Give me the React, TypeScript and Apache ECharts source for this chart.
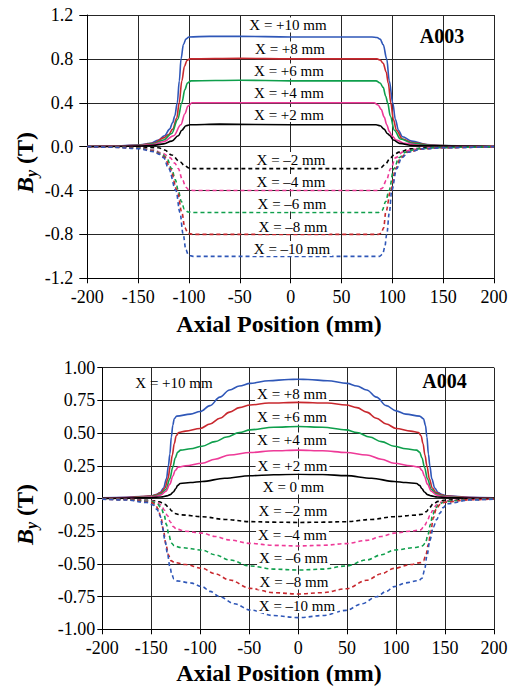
import React, { useEffect, useRef } from 'react';
import * as echarts from 'echarts';

const FONT = "'Liberation Serif', 'Times New Roman', serif";

const BLUE = '#2f57b8';
const RED = '#c8282e';
const GREEN = '#0f9f4c';
const PINK = '#ee3a98';
const BLACK = '#000000';

// ---------- A003 (top panel) ----------
const a003P10 = [[-200,0.002],[-175,0.006],[-150,0.015],[-138,0.03],[-130,0.06],[-124,0.1],[-119,0.16],[-116,0.22],[-114,0.28],[-111.5,0.4],[-109.5,0.6],[-107.8,0.8],[-105.5,0.93],[-103,0.98],[-100,1.0],[-80,1.005],[-50,1.005],[0,1.0],[50,1.0],[80,1.0],[85,0.995],[88,0.98],[91,0.93],[94.5,0.8],[97,0.6],[100.4,0.4],[103,0.25],[106,0.15],[110,0.09],[119,0.05],[134,0.02],[150,0.01],[175,0.004],[200,0.002]];
const a003P8 = [[-200,0.002],[-175,0.005],[-150,0.012],[-135,0.03],[-125,0.08],[-120,0.11],[-116,0.16],[-112,0.26],[-109.6,0.4],[-107,0.6],[-104.5,0.73],[-102,0.785],[-99,0.8],[-50,0.805],[0,0.8],[50,0.8],[85,0.8],[88,0.79],[91,0.76],[94,0.68],[96,0.58],[98.5,0.4],[101,0.25],[104,0.15],[110,0.07],[120,0.035],[140,0.012],[160,0.006],[200,0.002]];
const a003P6 = [[-200,0.002],[-175,0.004],[-150,0.01],[-135,0.025],[-125,0.06],[-117,0.12],[-111,0.25],[-107,0.4],[-104,0.52],[-101.5,0.58],[-98,0.6],[-50,0.605],[0,0.6],[50,0.6],[84,0.6],[88,0.58],[91,0.54],[93.5,0.46],[95.4,0.4],[98,0.28],[102,0.15],[108,0.07],[120,0.03],[140,0.01],[200,0.002]];
const a003P4 = [[-200,0.001],[-175,0.003],[-150,0.008],[-135,0.02],[-125,0.045],[-115,0.1],[-108,0.2],[-104,0.3],[-101,0.37],[-97,0.4],[0,0.4],[82,0.4],[86,0.38],[89,0.34],[92,0.27],[94.5,0.2],[97,0.14],[99.5,0.1],[104,0.06],[112,0.03],[130,0.01],[200,0.001]];
const a003P2 = [[-200,0.001],[-175,0.002],[-150,0.005],[-135,0.012],[-125,0.025],[-117,0.05],[-110.5,0.1],[-107,0.15],[-103,0.19],[-99,0.2],[-70,0.205],[0,0.2],[84,0.2],[88,0.19],[92,0.16],[95,0.12],[97.7,0.1],[101,0.06],[107,0.03],[120,0.01],[200,0.001]];
const a003N2 = [[-200,0],[-175,-0.002],[-150,-0.005],[-130,-0.01],[-124,-0.03],[-117,-0.076],[-109,-0.137],[-104,-0.175],[-100,-0.195],[-95,-0.2],[0,-0.2],[84.6,-0.2],[89,-0.19],[93,-0.16],[98.4,-0.1],[102,-0.07],[106.6,-0.05],[118,-0.02],[135,-0.008],[200,0]];
const a003N4 = [[-200,0],[-175,-0.003],[-150,-0.01],[-135,-0.03],[-126,-0.06],[-118.6,-0.1],[-114,-0.15],[-110.5,-0.2],[-106.5,-0.3],[-103,-0.37],[-100,-0.395],[-95,-0.4],[0,-0.4],[86,-0.4],[90,-0.38],[94,-0.31],[98.4,-0.2],[103.3,-0.1],[110,-0.05],[120,-0.025],[140,-0.01],[200,0]];
const a003N6 = [[-200,0],[-175,-0.004],[-150,-0.012],[-135,-0.035],[-127,-0.065],[-122,-0.1],[-117,-0.2],[-113.5,-0.3],[-110.5,-0.4],[-107.5,-0.5],[-104.5,-0.57],[-101,-0.595],[-95,-0.6],[0,-0.6],[86,-0.6],[90,-0.58],[93.5,-0.5],[96.7,-0.4],[101.6,-0.2],[106.6,-0.1],[113,-0.05],[125,-0.02],[145,-0.008],[200,0]];
const a003N8 = [[-200,0],[-175,-0.005],[-150,-0.015],[-135,-0.04],[-128,-0.07],[-123.5,-0.1],[-118.6,-0.2],[-111.5,-0.4],[-107,-0.6],[-104,-0.74],[-101,-0.79],[-96,-0.8],[0,-0.8],[86,-0.8],[89,-0.79],[91.5,-0.74],[93.5,-0.6],[98.4,-0.4],[103.3,-0.2],[108.2,-0.1],[115,-0.05],[130,-0.02],[150,-0.01],[200,0]];
const a003N10 = [[-200,0],[-175,-0.006],[-150,-0.018],[-135,-0.045],[-129,-0.07],[-125,-0.1],[-120,-0.2],[-112.8,-0.4],[-108.9,-0.6],[-105.7,-0.8],[-103,-0.94],[-100.5,-0.99],[-96,-1.0],[0,-1.0],[87.3,-1.0],[90.5,-0.98],[92.5,-0.92],[94.5,-0.8],[97.1,-0.6],[99.4,-0.4],[104.3,-0.2],[109.2,-0.1],[115.8,-0.05],[130,-0.02],[150,-0.01],[200,0]];

// ---------- A004 (bottom panel) ----------
const a004P10 = [[-200,0.005],[-175,0.01],[-160,0.015],[-150,0.02],[-145,0.03],[-141,0.045],[-137.5,0.08],[-134.5,0.15],[-132.5,0.25],[-131,0.34],[-129.5,0.47],[-128,0.56],[-126.5,0.61],[-124,0.63],[-110,0.645],[-100,0.665],[-90,0.71],[-80,0.775],[-70,0.83],[-60,0.86],[-49,0.88],[-30,0.9],[-10,0.91],[0,0.912],[10,0.91],[30,0.9],[50,0.88],[60,0.86],[70,0.83],[80,0.775],[90,0.71],[100,0.67],[110,0.645],[124,0.63],[128,0.61],[130,0.56],[131.5,0.47],[133,0.34],[134.5,0.25],[136.5,0.15],[139.5,0.08],[143,0.045],[147,0.03],[152,0.02],[175,0.01],[200,0.005]];
const a004P8 = [[-200,0.004],[-175,0.008],[-150,0.018],[-145,0.028],[-140,0.045],[-136,0.08],[-133,0.15],[-130.5,0.25],[-128.5,0.33],[-126.5,0.42],[-124.5,0.48],[-122,0.505],[-115,0.515],[-100,0.535],[-90,0.57],[-80,0.613],[-70,0.66],[-60,0.695],[-49,0.715],[-30,0.73],[0,0.735],[30,0.73],[49,0.715],[60,0.695],[70,0.66],[80,0.613],[90,0.57],[100,0.535],[115,0.515],[123,0.505],[125.5,0.48],[127.5,0.42],[129.5,0.33],[131.5,0.25],[134,0.15],[137,0.08],[141,0.045],[146,0.028],[151,0.018],[175,0.008],[200,0.004]];
const a004P6 = [[-200,0.003],[-175,0.006],[-150,0.014],[-145,0.022],[-140,0.035],[-135,0.07],[-131,0.15],[-128,0.24],[-125.5,0.31],[-123,0.355],[-120,0.37],[-110,0.38],[-98,0.4],[-85,0.435],[-73,0.47],[-60,0.505],[-49,0.525],[-25,0.545],[0,0.55],[25,0.545],[49,0.525],[60,0.505],[73,0.47],[85,0.435],[98,0.4],[110,0.38],[121,0.37],[124,0.355],[126.5,0.31],[129,0.24],[132,0.15],[136,0.07],[141,0.035],[146,0.022],[151,0.014],[175,0.006],[200,0.003]];
const a004P4 = [[-200,0.002],[-175,0.005],[-150,0.011],[-145,0.017],[-140,0.028],[-135,0.055],[-131,0.11],[-128,0.17],[-125.5,0.215],[-122.5,0.24],[-115,0.25],[-98,0.27],[-85,0.3],[-70,0.333],[-49,0.352],[-25,0.365],[0,0.37],[25,0.365],[49,0.352],[70,0.333],[85,0.3],[98,0.27],[115,0.25],[123.5,0.24],[126.5,0.215],[129,0.17],[132,0.11],[136,0.055],[141,0.028],[146,0.017],[151,0.011],[175,0.005],[200,0.002]];
const a004P0 = [[-200,0.001],[-175,0.003],[-150,0.006],[-140,0.012],[-134,0.02],[-130.5,0.03],[-127.5,0.05],[-125,0.075],[-123,0.1],[-120.5,0.115],[-110,0.122],[-98,0.13],[-75,0.155],[-49,0.174],[-25,0.182],[0,0.185],[25,0.183],[49,0.175],[75,0.155],[98,0.13],[110,0.122],[121,0.115],[124,0.1],[126.5,0.075],[129,0.05],[132,0.03],[136,0.02],[142,0.012],[152,0.006],[175,0.003],[200,0.001]];
const a004N2 = [[-200,-0.001],[-175,-0.005],[-150,-0.015],[-142,-0.025],[-136,-0.045],[-132,-0.07],[-129,-0.095],[-126,-0.115],[-120,-0.125],[-98,-0.139],[-75,-0.16],[-49,-0.177],[-25,-0.181],[0,-0.183],[25,-0.181],[49,-0.177],[75,-0.16],[98,-0.139],[120,-0.127],[127,-0.12],[131,-0.1],[134,-0.07],[138,-0.04],[143,-0.022],[150,-0.012],[175,-0.004],[200,-0.001]];
const a004N4 = [[-200,-0.002],[-175,-0.006],[-150,-0.018],[-144,-0.03],[-140,-0.05],[-136.5,-0.09],[-133.5,-0.13],[-130.5,-0.18],[-127.5,-0.215],[-124,-0.235],[-115,-0.25],[-98,-0.265],[-85,-0.29],[-70,-0.317],[-49,-0.343],[-25,-0.358],[0,-0.363],[25,-0.358],[49,-0.345],[70,-0.32],[85,-0.29],[98,-0.265],[115,-0.25],[125,-0.24],[128.5,-0.215],[131.5,-0.18],[134.5,-0.13],[137.5,-0.09],[141,-0.05],[145,-0.03],[151,-0.018],[175,-0.006],[200,-0.002]];
const a004N6 = [[-200,-0.003],[-175,-0.008],[-150,-0.022],[-144,-0.04],[-140,-0.07],[-137,-0.12],[-134.5,-0.2],[-132,-0.28],[-129.5,-0.34],[-126.5,-0.362],[-120,-0.375],[-98,-0.394],[-85,-0.43],[-70,-0.47],[-49,-0.516],[-25,-0.54],[0,-0.547],[25,-0.54],[49,-0.516],[70,-0.47],[85,-0.43],[98,-0.394],[120,-0.375],[127,-0.362],[130,-0.34],[132.5,-0.28],[135,-0.2],[137.5,-0.12],[140.5,-0.07],[144.5,-0.04],[150,-0.022],[175,-0.008],[200,-0.003]];
const a004N8 = [[-200,-0.004],[-175,-0.01],[-150,-0.03],[-146,-0.045],[-143,-0.08],[-140,-0.15],[-137.5,-0.25],[-135,-0.35],[-132.5,-0.43],[-130,-0.475],[-126,-0.49],[-115,-0.505],[-98,-0.534],[-85,-0.575],[-70,-0.623],[-49,-0.687],[-25,-0.72],[0,-0.73],[25,-0.72],[49,-0.69],[70,-0.625],[85,-0.575],[98,-0.534],[115,-0.505],[125,-0.49],[128,-0.475],[130.5,-0.43],[133,-0.35],[135.5,-0.25],[138,-0.15],[141,-0.08],[145,-0.045],[150,-0.028],[175,-0.01],[200,-0.004]];
const a004N10 = [[-200,-0.005],[-175,-0.012],[-155,-0.03],[-148,-0.05],[-144,-0.085],[-141,-0.13],[-138.5,-0.22],[-136,-0.32],[-133.5,-0.42],[-131,-0.52],[-129,-0.58],[-127,-0.615],[-124,-0.63],[-110,-0.645],[-98,-0.674],[-90,-0.71],[-80,-0.751],[-65,-0.805],[-49,-0.852],[-25,-0.895],[0,-0.911],[25,-0.895],[49,-0.855],[65,-0.805],[80,-0.751],[90,-0.71],[98,-0.674],[110,-0.645],[123,-0.628],[126.5,-0.61],[129,-0.55],[131.5,-0.44],[134.5,-0.32],[138,-0.22],[141.5,-0.16],[145,-0.11],[148,-0.07],[152,-0.04],[175,-0.012],[200,-0.005]];

// curve labels: text and position
const a003Labels = ['X = +10 mm','X = +8 mm','X = +6 mm','X = +4 mm','X = +2 mm','X = \u20132 mm','X = \u20134 mm','X = \u20136 mm','X = \u20138 mm','X = \u201310 mm'];
const a003LabelPos = [[288,25],[290,49],[289,71],[289,92.5],[289,114.5],[291,159.5],[291,181.5],[292,204],[293,226.5],[292,248.5]];
const a004Labels = ['X = +10 mm','X = +8 mm','X = +6 mm','X = +4 mm','X = +2 mm','X = 0 mm','X = \u20132 mm','X = \u20134 mm','X = \u20136 mm','X = \u20138 mm','X = \u201310 mm'];
const a004LabelPos = [[174,382.5],[292,393.5],[292,417],[292,440],[292.5,466],[293.5,487],[293,511],[292.5,534.5],[293.5,558],[294,582],[297,605.5]];

export default function App() {
  const ref = useRef<HTMLDivElement>(null);
  useEffect(() => {
    if (!ref.current) return;
    const chart = echarts.init(ref.current, undefined, { renderer: 'svg' });

    const mk = (data: number[][], color: string, dashed: boolean, idx: number) => ({
      type: 'line',
      xAxisIndex: idx,
      yAxisIndex: idx,
      data,
      showSymbol: false,
      symbol: 'none',
      smooth: 0.35,
      smoothMonotone: 'x',
      silent: true,
      lineStyle: { color, width: 1.6, type: dashed ? [4, 3] : 'solid' },
      z: 3,
    });

    const series = [
      mk(a003P10, BLUE, false, 0), mk(a003P8, RED, false, 0), mk(a003P6, GREEN, false, 0), mk(a003P4, PINK, false, 0), mk(a003P2, BLACK, false, 0),
      mk(a003N2, BLACK, true, 0), mk(a003N4, PINK, true, 0), mk(a003N6, GREEN, true, 0), mk(a003N8, RED, true, 0), mk(a003N10, BLUE, true, 0),
      mk(a004P10, BLUE, false, 1), mk(a004P8, RED, false, 1), mk(a004P6, GREEN, false, 1), mk(a004P4, PINK, false, 1), mk(a004P0, BLACK, false, 1),
      mk(a004N2, BLACK, true, 1), mk(a004N4, PINK, true, 1), mk(a004N6, GREEN, true, 1), mk(a004N8, RED, true, 1), mk(a004N10, BLUE, true, 1),
    ];

    const gridLine = { show: true, lineStyle: { color: '#262626', width: 1 } };
    const xAxisBase = (gi: number, margin: number) => ({
      type: 'value', gridIndex: gi, min: -200, max: 200, interval: 50,
      axisLine: { show: true, onZero: false, lineStyle: { color: '#000', width: 1 } },
      axisTick: { show: true, inside: false, length: 5, lineStyle: { color: '#000' } },
      axisLabel: { color: '#000', fontFamily: FONT, fontSize: 18, margin },
      splitLine: gridLine,
    });
    const fmt = (d: number) => (v: number) => (Math.abs(v) < 1e-9 ? (0).toFixed(d) : v.toFixed(d));

    const labelText = (texts: string[], pos: number[][], plain: number[]) =>
      texts.map((t, i) => ({
        type: 'text', x: pos[i][0], y: pos[i][1], z: 100,
        style: {
          text: t, fontFamily: FONT, fontSize: 15, fill: '#000',
          align: 'center', verticalAlign: 'middle',
          backgroundColor: plain.includes(i) ? 'transparent' : '#fff',
          padding: [0, 2],
        },
      }));

    const yTitle = (x: number, y: number) => ({
      type: 'group', x, y, rotation: Math.PI / 2, z: 100,
      children: [
        { type: 'text', x: 0, y: 0, style: { text: 'B', fontFamily: FONT, fontSize: 24, fontWeight: 'bold', fontStyle: 'italic', fill: '#000', align: 'left', verticalAlign: 'middle' } },
        { type: 'text', x: 16, y: 6, style: { text: 'y', fontFamily: FONT, fontSize: 16, fontWeight: 'bold', fontStyle: 'italic', fill: '#000', align: 'left', verticalAlign: 'middle' } },
        { type: 'text', x: 29, y: 0, style: { text: '(T)', fontFamily: FONT, fontSize: 24, fontWeight: 'bold', fill: '#000', align: 'left', verticalAlign: 'middle' } },
      ],
    });
    const xTitle = (x: number, y: number) => ({
      type: 'text', x, y, z: 100,
      style: { text: 'Axial Position (mm)', fontFamily: FONT, fontSize: 24, fontWeight: 'bold', fill: '#000', align: 'center', verticalAlign: 'middle' },
    });
    const tag = (t: string, x: number, y: number) => ({
      type: 'text', x, y, z: 100,
      style: { text: t, fontFamily: FONT, fontSize: 20, fontWeight: 'bold', fill: '#000', align: 'center', verticalAlign: 'middle' },
    });

    chart.setOption({
      animation: false,
      backgroundColor: '#fff',
      textStyle: { fontFamily: FONT },
      grid: [
        { left: 87.3, top: 15, width: 406.7, height: 263.3 },
        { left: 102.3, top: 367.7, width: 391.7, height: 261.6 },
      ],
      xAxis: [xAxisBase(0, 10), xAxisBase(1, 10)],
      yAxis: [
        {
          type: 'value', gridIndex: 0, min: -1.2, max: 1.2, interval: 0.4,
          axisLine: { show: true, onZero: false, lineStyle: { color: '#000', width: 1 } },
          axisTick: { show: true, length: 8, lineStyle: { color: '#000' } },
          axisLabel: { color: '#000', fontFamily: FONT, fontSize: 18, margin: 14, formatter: fmt(1) },
          splitLine: gridLine,
        },
        {
          type: 'value', gridIndex: 1, min: -1, max: 1, interval: 0.25,
          axisLine: { show: true, onZero: false, lineStyle: { color: '#000', width: 1 } },
          axisTick: { show: true, length: 5, lineStyle: { color: '#000' } },
          axisLabel: { color: '#000', fontFamily: FONT, fontSize: 18, margin: 7, formatter: fmt(2) },
          splitLine: gridLine,
        },
      ],
      series,
      graphic: [
        ...labelText(a003Labels, a003LabelPos, []),
        ...labelText(a004Labels, a004LabelPos, [0]),
        tag('A003', 442, 36),
        tag('A004', 444.5, 381),
        xTitle(279, 324),
        xTitle(279, 673),
        yTitle(25, 193),
        yTitle(25, 545),
      ],
    });
    return () => chart.dispose();
  }, []);
  return <div ref={ref} style={{ position: 'absolute', left: 0, top: 0, width: 514, height: 687 }} />;
}
